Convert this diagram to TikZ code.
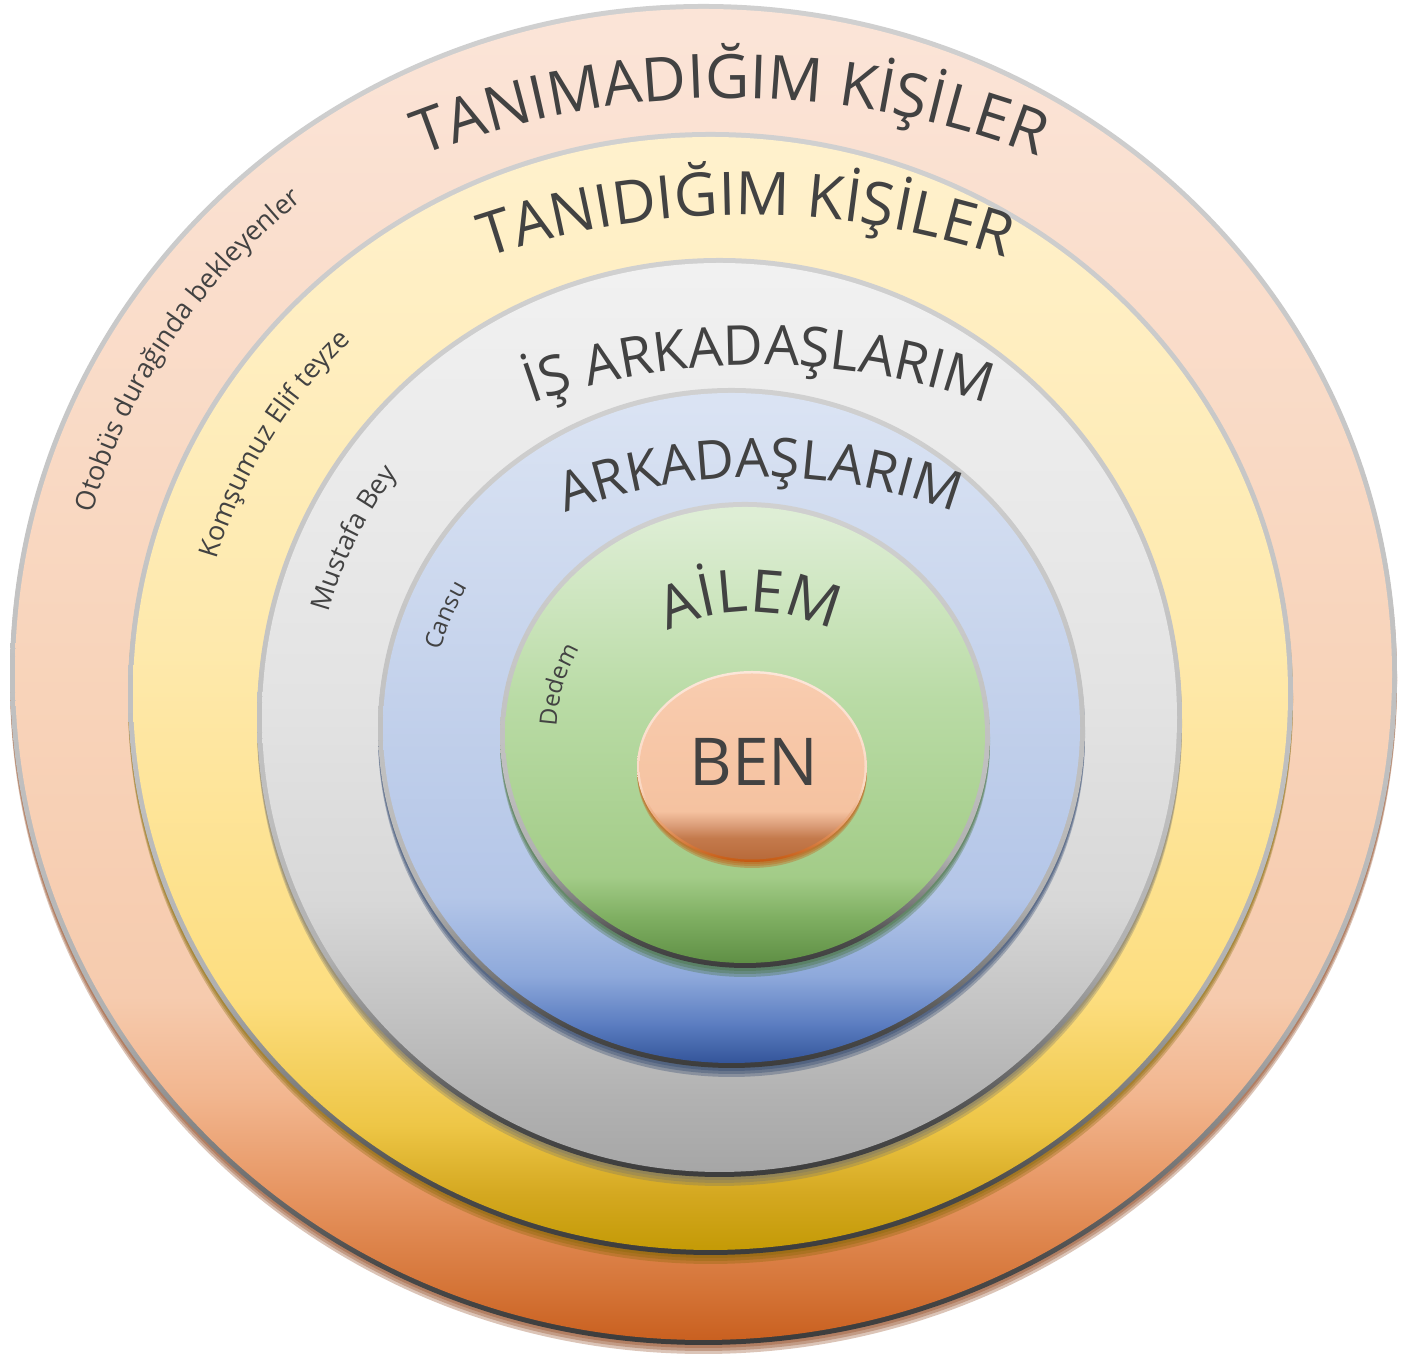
\documentclass[tikz,border=0pt]{standalone}
\usepackage{fontspec}
\setmainfont{Open Sans}
\usetikzlibrary{decorations.text}

\definecolor{txt}{HTML}{424242}
\definecolor{shOuter}{HTML}{8B3D12}
\definecolor{shYellow}{HTML}{7F6500}
\definecolor{shGray}{HTML}{6E6E6E}
\definecolor{shBlue}{HTML}{1F3864}
\definecolor{shGreen}{HTML}{3E6B2A}
\definecolor{shBen}{HTML}{C55A11}

\definecolor{o1}{HTML}{C96020}\definecolor{o2}{HTML}{D57538}\definecolor{o3}{HTML}{E69460}
\definecolor{o4}{HTML}{F2B68F}\definecolor{o5}{HTML}{F6CBAE}\definecolor{o6}{HTML}{F8D3B9}
\definecolor{o7}{HTML}{FBE4D7}
\definecolor{y1}{HTML}{C49A06}\definecolor{y2}{HTML}{D4A820}\definecolor{y3}{HTML}{EEC646}
\definecolor{y4}{HTML}{FDDE80}\definecolor{y5}{HTML}{FEE9AC}\definecolor{y6}{HTML}{FFF1CC}
\definecolor{g1}{HTML}{A6A6A6}\definecolor{g2}{HTML}{B2B2B2}\definecolor{g3}{HTML}{C6C6C6}
\definecolor{g4}{HTML}{D8D8D8}\definecolor{g5}{HTML}{E3E3E3}\definecolor{g6}{HTML}{F1F1F1}
\definecolor{b1}{HTML}{34559A}\definecolor{b2}{HTML}{5A7CC0}\definecolor{b3}{HTML}{8EA9DB}
\definecolor{b4}{HTML}{B4C6E8}\definecolor{b5}{HTML}{C3D1EB}\definecolor{b6}{HTML}{DAE3F3}
\definecolor{e1}{HTML}{5F8F45}\definecolor{e2}{HTML}{7FAF62}\definecolor{e3}{HTML}{A3CC88}
\definecolor{e4}{HTML}{B9DBA5}\definecolor{e5}{HTML}{DEEED5}
\definecolor{n1}{HTML}{B86A3A}\definecolor{n2}{HTML}{C47A4C}\definecolor{n3}{HTML}{DDA07C}
\definecolor{n4}{HTML}{F5C2A0}\definecolor{n5}{HTML}{F8CAAC}\definecolor{n6}{HTML}{F9CDB0}
\definecolor{l1}{HTML}{3C3C3C}\definecolor{l2}{HTML}{4A4A4A}\definecolor{l3}{HTML}{7A7A7A}
\definecolor{l4}{HTML}{B0B0B0}\definecolor{l5}{HTML}{BEBEBE}\definecolor{l6}{HTML}{D0D0D0}
\definecolor{m1}{HTML}{C4580F}\definecolor{m2}{HTML}{E8A070}\definecolor{m3}{HTML}{FAD9C4}
\definecolor{m4}{HTML}{FCE6D9}

\pgfdeclareverticalshading{ringline}{100bp}{color(0bp)=(l1); color(25bp)=(l1); color(28bp)=(l2);
  color(32bp)=(l3); color(37bp)=(l4); color(45bp)=(l5); color(75bp)=(l6); color(100bp)=(l6)}
\pgfdeclareverticalshading{benline}{100bp}{color(0bp)=(m1); color(25bp)=(m1); color(35bp)=(m2);
  color(45bp)=(m3); color(75bp)=(m4); color(100bp)=(m4)}
\pgfdeclareverticalshading{outerfill}{100bp}{color(0bp)=(o1); color(25bp)=(o1); color(27bp)=(o2);
  color(30.4bp)=(o3); color(34.2bp)=(o4); color(37.9bp)=(o5); color(49bp)=(o6); color(74bp)=(o7); color(100bp)=(o7)}
\pgfdeclareverticalshading{yellowfill}{100bp}{color(0bp)=(y1); color(25bp)=(y1); color(27.5bp)=(y2);
  color(30.6bp)=(y3); color(36.4bp)=(y4); color(52bp)=(y5); color(74bp)=(y6); color(100bp)=(y6)}
\pgfdeclareverticalshading{grayfill}{100bp}{color(0bp)=(g1); color(25bp)=(g1); color(29.2bp)=(g2);
  color(34.7bp)=(g3); color(40bp)=(g4); color(51bp)=(g5); color(74.5bp)=(g6); color(100bp)=(g6)}
\pgfdeclareverticalshading{bluefill}{100bp}{color(0bp)=(b1); color(25bp)=(b1); color(27.8bp)=(b2);
  color(31.5bp)=(b3); color(37.4bp)=(b4); color(52bp)=(b5); color(74bp)=(b6); color(100bp)=(b6)}
\pgfdeclareverticalshading{greenfill}{100bp}{color(0bp)=(e1); color(25bp)=(e1); color(30bp)=(e2);
  color(34.5bp)=(e3); color(53.8bp)=(e4); color(74bp)=(e5); color(100bp)=(e5)}
\pgfdeclareverticalshading{benfill}{100bp}{color(0bp)=(n1); color(25bp)=(n1); color(30.8bp)=(n2);
  color(34.5bp)=(n3); color(38bp)=(n4); color(67.5bp)=(n5); color(75bp)=(n6); color(100bp)=(n6)}

\newcommand\titlefont[1]{\fontsize{#1}{#1}\selectfont\color{txt}}

\begin{document}
\begin{tikzpicture}[x=0.5pt,y=0.5pt]
  \tikzset{arctext/.style={decorate, decoration={text along path, text align=center, text={#1}}}}

  \fill[white] (0,0) rectangle (1415,1358);
  \useasboundingbox (0,0) rectangle (1415,1358);

  \foreach \cx/\cy/\rx/\ry/\fillsh/\shcol in {
      703.5/683.5/693.5/670.5/outerfill/shOuter,
      710.5/664.5/582.5/561.5/yellowfill/shYellow,
      719.5/640.5/462.5/459.5/grayfill/shGray,
      731.5/630/353.5/340/bluefill/shBlue,
      745/623/245/233/greenfill/shGreen}
  {
    \foreach \d in {3,6,9}
      \fill[\shcol, opacity=.3] (\cx,\cy-\d) ellipse [x radius=\rx, y radius=\ry];
    \shade[shading=ringline] (\cx,\cy) ellipse [x radius=\rx, y radius=\ry];
    \shade[shading=\fillsh] (\cx,\cy) ellipse [x radius=\rx-5, y radius=\ry-5];
  }

  \foreach \d in {2,4,6}
    \fill[shBen, opacity=.35] (752,591.5-\d) ellipse [x radius=115, y radius=95.5];
  \shade[shading=benline] (752,591.5) ellipse [x radius=115, y radius=95.5];
  \shade[shading=benfill] (752,591.5) ellipse [x radius=112.5, y radius=93];
  \node[font=\titlefont{33}] (ben) at (754,596) {BEN};

  \path[arctext={|\titlefont{30.5}|TANIMADIĞIM KİŞİLER}] (730,413) ++(120:847) arc[start angle=120, end angle=60, radius=847];
  \path[arctext={|\titlefont{30}|TANIDIĞIM KİŞİLER}] (746,336) ++(118:807) arc[start angle=118, end angle=62, radius=807];
  \path[arctext={|\titlefont{27.5}|İŞ ARKADAŞLARIM}] (759,309) ++(118:684) arc[start angle=118, end angle=62, radius=684];
  \path[arctext={|\titlefont{27}|ARKADAŞLARIM}] (760,332) ++(120:549) arc[start angle=120, end angle=60, radius=549];
  \path[arctext={|\titlefont{29.5}|AİLEM}] (750,559) ++(135:187) arc[start angle=135, end angle=45, radius=187];

  \path[arctext={|\titlefont{13.5}|Otobüs durağında bekleyenler}] (703.5,683.5) ++(172.1:633.2 and 612.2)
    arc[start angle=172.1, end angle=122.1, x radius=633.2, y radius=612.2];
  \path[arctext={|\titlefont{13.5}|Komşumuz Elif teyze}] (710.5,664.5) ++(174.5:512.6 and 494.1)
    arc[start angle=174.5, end angle=124.5, x radius=512.6, y radius=494.1];
  \path[arctext={|\titlefont{13.5}|Mustafa Bey}] (719.5,640.5) ++(173.8:404.7 and 402.1)
    arc[start angle=173.8, end angle=133.8, x radius=404.7, y radius=402.1];
  \path[arctext={|\titlefont{12}|Cansu}] (731.5,630) ++(172.8:302.2 and 290.7)
    arc[start angle=172.8, end angle=142.8, x radius=302.2, y radius=290.7];
  \path[arctext={|\titlefont{12}|Dedem}] (745,623) ++(184.3:188.7 and 179.4)
    arc[start angle=184.3, end angle=144.3, x radius=188.7, y radius=179.4];
\end{tikzpicture}
\end{document}
